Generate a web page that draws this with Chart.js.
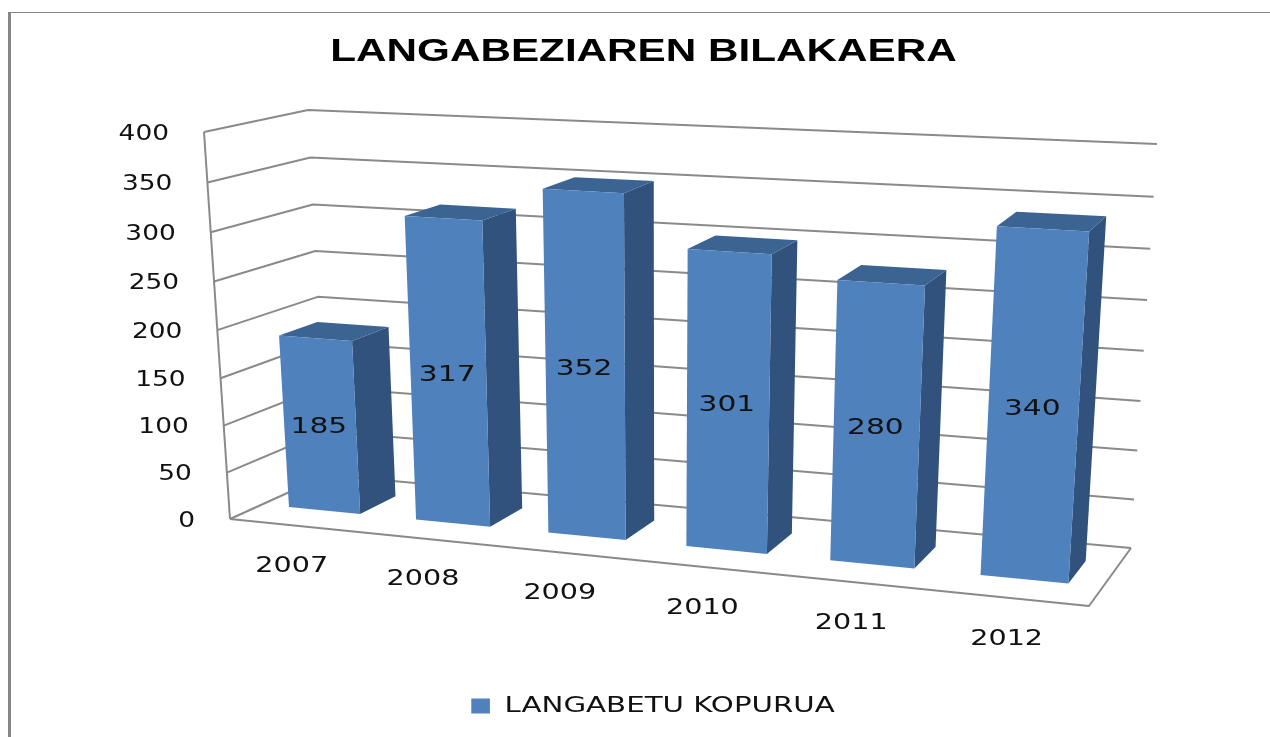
<!DOCTYPE html>
<html>
<head>
<meta charset="utf-8">
<style>
html,body{margin:0;padding:0;background:#fff;overflow:hidden}
#wrap{position:relative;width:1270px;height:737px}
#frame{position:absolute;left:8px;top:12px;right:0;bottom:0;border-left:3px solid #868686;border-top:1px solid #868686;pointer-events:none}
canvas{position:absolute;left:0;top:0;display:block}
</style>
<script src="https://cdn.jsdelivr.net/npm/chart.js@4/dist/chart.umd.js"></script>
</head>
<body>
<div id="wrap"><canvas id="c" width="1270" height="737"></canvas><div id="frame"></div></div>
<script>
const categories = ['2007','2008','2009','2010','2011','2012'];
const langabetuKopurua = [185,317,352,301,280,340];
const seriesName = 'LANGABETU KOPURUA';
const chartTitle = 'LANGABEZIAREN BILAKAERA';
const axisMax = 400;
const axisStep = 50;

// Perspective view of the plot box: normalised (u,v,w) -> screen
const view = {
  f00:[230,519], f01:[204,132], f10:[1089,606], f11:[1116,180],
  b00:[327,475], b01:[308,110], b10:[1131,548], b11:[1157,144],
  ku:1.135, kv:1.049
};
const barDepth = [0.33,0.72];
const warp = (t,k)=> t/(t+k*(1-t));
function project(u,v,w){
  const U=warp(u,view.ku), V=warp(v,view.kv);
  const mix=(a,b,t)=>[a[0]+(b[0]-a[0])*t,a[1]+(b[1]-a[1])*t];
  const front=mix(mix(view.f00,view.f10,U),mix(view.f01,view.f11,U),V);
  const back =mix(mix(view.b00,view.b10,U),mix(view.b01,view.b11,U),V);
  return mix(front,back,w);
}
function poly(ctx,pts,fill){
  ctx.beginPath();
  pts.forEach((p,i)=> i?ctx.lineTo(p[0],p[1]):ctx.moveTo(p[0],p[1]));
  ctx.closePath();
  ctx.fillStyle=fill;ctx.fill();
}
function line(ctx,pts){
  ctx.beginPath();
  pts.forEach((p,i)=> i?ctx.lineTo(p[0],p[1]):ctx.moveTo(p[0],p[1]));
  ctx.stroke();
}
function stretchedText(ctx,text,x,y,align,sx){
  ctx.save();
  ctx.translate(x,y);ctx.scale(sx,1);
  ctx.textAlign=align;ctx.textBaseline='middle';
  ctx.font='22px "DejaVu Sans"';ctx.fillStyle='#111';
  ctx.fillText(text,0,0);
  ctx.restore();
}
function stretchBox(chart,box,cx,sx,dx){
  if(!box||box.__stretched) return;
  box.__stretched=true;
  const orig=box.draw;
  box.draw=function(...a){
    const ctx=chart.ctx;
    ctx.save();
    ctx.translate(cx+dx,0);ctx.scale(sx,1);ctx.translate(-cx,0);
    orig.apply(this,a);
    ctx.restore();
  };
}
const perspective3D = {
  id:'perspective3D',
  beforeDraw(chart){
    const mid=chart.width/2;
    stretchBox(chart,chart.titleBlock,mid,1.32,8.5);
    stretchBox(chart,chart.legend,mid,1.33,18);
  },
  beforeDatasetsDraw(chart){
    const ctx=chart.ctx, y=chart.scales.y;
    ctx.save();
    ctx.strokeStyle='#8a8a8a';ctx.lineWidth=2;ctx.lineJoin='round';
    y.ticks.forEach(t=>{
      const v=t.value/axisMax;
      line(ctx,[project(0,v,0),project(0,v,1),project(1,v,1)]);
    });
    line(ctx,[project(0,0,0),project(0,1,0)]);
    line(ctx,[project(0,0,0),project(1,0,0),project(1,0,1)]);
    ctx.restore();
  },
  beforeDatasetDraw(chart,args){
    const ctx=chart.ctx, a=chart.chartArea;
    const [w0,w1]=barDepth;
    args.meta.data.forEach(bar=>{
      const uL=(bar.x-bar.width/2-a.left)/a.width, uR=(bar.x+bar.width/2-a.left)/a.width;
      const vT=(bar.base-bar.y)/a.height;
      poly(ctx,[project(uR,0,w0),project(uR,0,w1),project(uR,vT,w1),project(uR,vT,w0)],'#30527C');
      poly(ctx,[project(uL,vT,w0),project(uR,vT,w0),project(uR,vT,w1),project(uL,vT,w1)],'#3C6492');
      poly(ctx,[project(uL,0,w0),project(uR,0,w0),project(uR,vT,w0),project(uL,vT,w0)],'#4F81BD');
    });
    return false;
  },
  afterDatasetsDraw(chart){
    const ctx=chart.ctx, a=chart.chartArea, y=chart.scales.y, x=chart.scales.x;
    y.ticks.forEach(t=>{
      const p=project(0,t.value/axisMax,0);
      stretchedText(ctx,String(t.value),p[0]-35,p[1]+2,'right',1.2);
    });
    categories.forEach((c,i)=>{
      const p=project((x.getPixelForValue(i)-a.left)/a.width,0,0);
      stretchedText(ctx,x.getLabelForValue(i),p[0]-2,p[1]+41,'center',1.3);
    });
    chart.getDatasetMeta(0).data.forEach((bar,i)=>{
      const u=(bar.x-a.left)/a.width, v=(bar.base-bar.y)/a.height/2;
      const p=project(u,v,barDepth[0]);
      stretchedText(ctx,String(chart.data.datasets[0].data[i]),p[0]-1,p[1]+2,'center',1.35);
    });
  }
};
new Chart(document.getElementById('c'),{
  type:'bar',
  data:{labels:categories,datasets:[{label:seriesName,data:langabetuKopurua,backgroundColor:'#4F81BD',barPercentage:0.565,categoryPercentage:1}]},
  plugins:[perspective3D],
  options:{
    responsive:false,animation:false,
    layout:{padding:{top:0,left:0,right:0,bottom:10}},
    scales:{
      x:{display:false},
      y:{display:false,min:0,max:axisMax,ticks:{stepSize:axisStep}}
    },
    plugins:{
      tooltip:{enabled:false},
      title:{display:true,text:chartTitle,color:'#000',font:{family:'"Liberation Sans"',size:32,weight:'bold'},padding:{top:33,bottom:10}},
      legend:{position:'bottom',labels:{color:'#111',font:{family:'"DejaVu Sans"',size:22},boxWidth:14,boxHeight:15,padding:8}}
    }
  }
});
</script>
</body>
</html>
